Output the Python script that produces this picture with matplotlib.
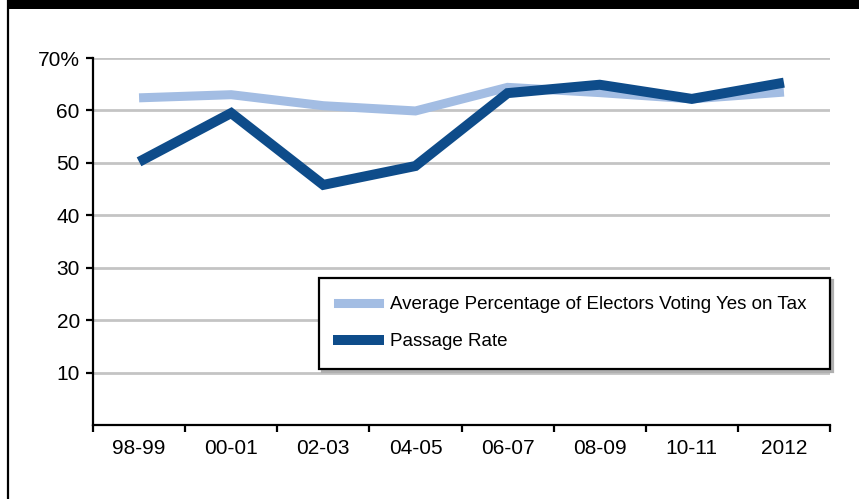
import matplotlib
matplotlib.use("Agg")
import matplotlib.pyplot as plt
from matplotlib.lines import Line2D
from matplotlib.patches import Rectangle

plt.rcParams['font.family'] = ['Liberation Sans', 'DejaVu Sans']

years = ["98-99", "00-01", "02-03", "04-05", "06-07", "08-09", "10-11", "2012"]
avg_yes = [62.4, 63.0, 60.9, 59.9, 64.4, 63.4, 62.2, 63.5]
passage = [50.2, 59.5, 45.8, 49.4, 63.3, 64.9, 62.2, 65.3]
ytick_vals = [10, 20, 30, 40, 50, 60, 70]
ytick_labels = ["10", "20", "30", "40", "50", "60", "70%"]

light = "#a3bde3"
dark = "#0e4c8a"
grid_gray = "#c4c4c4"

fig = plt.figure(figsize=(8.59, 4.99), dpi=100)
ax = fig.add_axes([93 / 859, 1 - 425 / 499, 737 / 859, 367 / 499])

# outer frame: thick bar on top, thin line down the left
fig.add_artist(Rectangle((7 / 859, 1 - 9 / 499), 1, 9 / 499, transform=fig.transFigure,
                         color="black", lw=0))
fig.add_artist(Line2D([8 / 859, 8 / 859], [0, 1], transform=fig.transFigure,
                      color="black", lw=1.6))

x = list(range(len(years)))
ax.plot(x, avg_yes, color=light, lw=6.5, solid_joinstyle="miter", solid_capstyle="butt",
        label="Average Percentage of Electors Voting Yes on Tax", zorder=3)
ax.plot(x, passage, color=dark, lw=7.2, solid_joinstyle="miter", solid_capstyle="butt",
        label="Passage Rate", zorder=4)

ax.set_xlim(-0.5, len(years) - 0.5)
ax.set_ylim(0, 70)
ax.set_xticks(x)
ax.set_xticklabels(years)
ax.set_xticks([i - 0.5 for i in range(len(years) + 1)], minor=True)
ax.tick_params(axis="x", which="major", length=0, pad=10, labelsize=15)
ax.tick_params(axis="x", which="minor", length=5, width=1.6, direction="out")
ax.set_yticks(ytick_vals)
ax.set_yticklabels(ytick_labels)
ax.tick_params(axis="y", length=5, width=1.6, direction="out", pad=4.5, labelsize=15)

ax.yaxis.grid(True, color=grid_gray, lw=2)
ax.set_axisbelow(True)
for s in ["top", "right"]:
    ax.spines[s].set_visible(False)
for s in ["left", "bottom"]:
    ax.spines[s].set_linewidth(1.6)

leg = ax.legend(loc="lower left", bbox_to_anchor=(226 / 737, 56 / 367, 511 / 737, 90 / 367),
                mode="expand", frameon=True, fancybox=False, shadow={"color": "#b0b0b0", "alpha": 1},
                edgecolor="black", fontsize=13.5, handlelength=2.2, handletextpad=0.58,
                labelspacing=1.05, borderpad=1.0, borderaxespad=0)
leg.get_frame().set_linewidth(1.6)
for h in leg.get_lines():
    h.set_solid_capstyle("projecting")

fig.savefig("out.png", dpi=100)
